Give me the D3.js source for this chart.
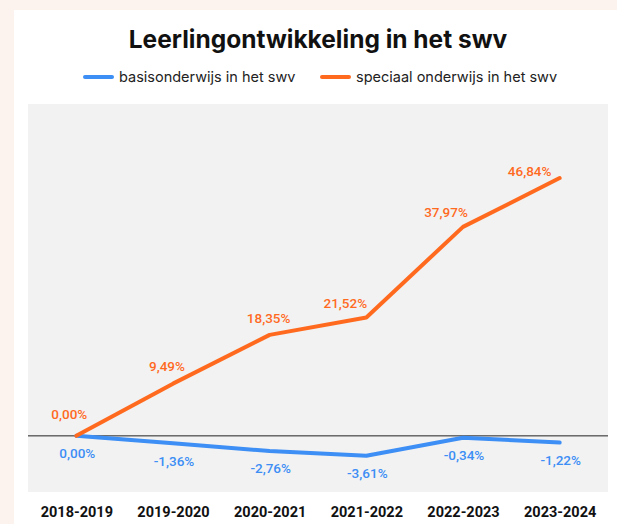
<!DOCTYPE html>
<html>
<head>
<meta charset="utf-8">
<script src="https://cdn.jsdelivr.net/npm/d3@7"></script>
<style>
  html, body { margin: 0; padding: 0; background: #fdf3ee; }
  svg { display: block; }
</style>
</head>
<body>
<div class="chart"></div>
<script>
// chart data
const years = ["2018-2019", "2019-2020", "2020-2021", "2021-2022", "2022-2023", "2023-2024"];
const basisValues = [0.00, -1.36, -2.76, -3.61, -0.34, -1.22];
const speciaalValues = [0.00, 9.49, 18.35, 21.52, 37.97, 46.84];
const seriesNames = ["basisonderwijs in het swv", "speciaal onderwijs in het swv"];
const seriesColors = ["#3d8ef5", "#ff6a1f"];

// label nudges (pixels) so the orange labels sit clear of the line
const speciaalLabelDx = [-7, -6, -1, -21, -17, -30];
const speciaalLabelDy = [-22, -17, -17, -14, -15, -7];

const W = 617, H = 524;
const plot = { left: 28, right: 608, top: 104, bottom: 492 };

let svg = d3.select(".chart")
    .append("svg")
    .attr("width", W)
    .attr("height", H);

// white card
svg.append("rect")
    .attr("x", 14).attr("y", 10)
    .attr("width", W - 14).attr("height", H - 10)
    .attr("fill", "#ffffff");

// grey plot area
svg.append("rect")
    .attr("x", plot.left).attr("y", plot.top)
    .attr("width", plot.right - plot.left).attr("height", plot.bottom - plot.top)
    .attr("fill", "#f2f2f2");

// title
svg.append("text")
    .attr("x", 318).attr("y", 48)
    .attr("text-anchor", "middle")
    .style("font-family", "Inter, 'Open Sans', sans-serif")
    .style("font-weight", 700)
    .style("font-size", "24.5px")
    .attr("fill", "#111")
    .text("Leerlingontwikkeling in het swv");

// legend
const legendX = [85, 322];
seriesNames.forEach((name, i) => {
    let g = svg.append("g").attr("transform", "translate(" + legendX[i] + ",77)");
    g.append("line")
        .attr("x1", 0).attr("x2", 27)
        .attr("stroke", seriesColors[i])
        .attr("stroke-width", 4)
        .attr("stroke-linecap", "round");
    g.append("text")
        .attr("x", 34).attr("dy", "0.35em")
        .style("font-family", "Inter, sans-serif")
        .style("font-size", "14.5px")
        .attr("fill", "#222")
        .text(name);
});

// scales
let xScale = d3.scalePoint()
    .domain(years)
    .range([plot.left, plot.right])
    .padding(0.5);

let yScale = d3.scaleLinear()
    .domain([-10.2, 60.3])
    .range([plot.bottom, plot.top]);

// x axis labels
svg.append("g")
    .attr("transform", "translate(0," + 512 + ")")
    .call(d3.axisBottom(xScale).tickSize(0).tickPadding(0))
    .call(g => g.select(".domain").remove())
    .selectAll("text")
    .attr("dy", "0.35em")
    .attr("y", 0)
    .style("font-family", "Roboto, sans-serif")
    .style("font-weight", 700)
    .style("font-size", "14.5px")
    .attr("fill", "#111");

// zero line
svg.append("line")
    .attr("x1", plot.left).attr("x2", plot.right)
    .attr("y1", yScale(0)).attr("y2", yScale(0))
    .attr("stroke", "#222")
    .attr("stroke-width", 1);

let line = d3.line()
    .x((d, i) => xScale(years[i]))
    .y(d => yScale(d));

const fmt = v => v.toFixed(2).replace(".", ",") + "%";

const series = [basisValues, speciaalValues];
series.forEach((vals, s) => {
    svg.append("path")
        .datum(vals)
        .attr("fill", "none")
        .attr("stroke", seriesColors[s])
        .attr("stroke-width", 4)
        .attr("stroke-linecap", "round")
        .attr("stroke-linejoin", "round")
        .attr("d", line);

    svg.append("g").selectAll("text")
        .data(vals)
        .enter().append("text")
        .attr("x", (d, i) => xScale(years[i]) + (s === 1 ? speciaalLabelDx[i] : 1))
        .attr("y", (d, i) => yScale(d) + (s === 1 ? speciaalLabelDy[i] : 17.5))
        .attr("dy", "0.35em")
        .attr("text-anchor", "middle")
        .style("font-family", "Roboto, sans-serif")
        .style("font-weight", 500)
        .style("font-size", "13.5px")
        .attr("fill", seriesColors[s])
        .text(d => fmt(d));
});
</script>
</body>
</html>
